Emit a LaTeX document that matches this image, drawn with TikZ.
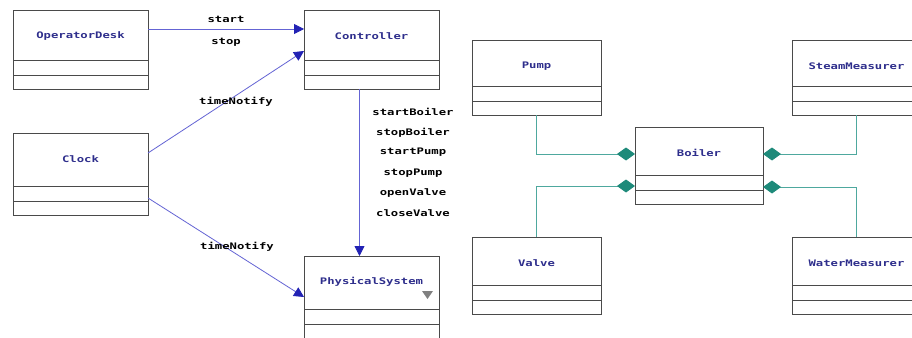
\documentclass[tikz,border=0pt]{standalone}
\usepackage{graphicx}
\usepackage{fontspec}
\setmonofont{DejaVu Sans Mono}
\usetikzlibrary{arrows.meta,calc}

\definecolor{frame}{HTML}{4A4A4A}
\definecolor{namecol}{HTML}{2E2E8C}
\definecolor{msgline}{HTML}{6464D4}
\definecolor{msghead}{HTML}{2222B4}
\definecolor{partline}{HTML}{4EA89E}
\definecolor{parthead}{HTML}{1E8A7A}

% wide, low monospace lettering
\newcommand\wide[1]{\scalebox{1.36}[1]{#1}}

\tikzset{
  classframe/.style={rectangle, draw=frame, line width=0.9pt, inner sep=0pt, outer sep=0pt},
  classname/.style={font=\ttfamily\bfseries\fontsize{9}{10}\selectfont, text=namecol, inner sep=1pt},
  compline/.style={draw=frame, line width=0.9pt},
  msglabel/.style={font=\ttfamily\bfseries\fontsize{9}{10}\selectfont, text=black, inner sep=1pt},
  msg/.style={draw=msgline, line width=0.8pt, -{Triangle[length=10pt,width=10pt,color=msghead]}},
  part/.style={draw=partline, line width=0.9pt, -{Diamond[length=18pt,width=13pt,color=parthead]}},
}

% class box: name, left, top, right, bottom, title
\newcommand\umlclass[6]{%
  \pgfmathsetmacro\cw{#4-#2}%
  \pgfmathsetmacro\ch{#5-#3}%
  \node[classframe, anchor=north west, minimum width=\cw pt, minimum height=\ch pt] (#1) at (#2,#3) {};
  \node[classname] (#1-name) at ($(#1.north)+(0,26)$) {\wide{#6}};
  \draw[compline] ([yshift=29pt]#1.south west) -- ([yshift=29pt]#1.south east);
  \draw[compline] ([yshift=14pt]#1.south west) -- ([yshift=14pt]#1.south east);
}

\begin{document}
\begin{tikzpicture}[x=1pt, y=-1pt]
  \useasboundingbox (0,0) rectangle (912,337);
  \clip (0,0) rectangle (912,337);
  \fill[white] (0,0) rectangle (912,337);

  % control side
  \umlclass{desk}{13}{10}{148}{89}{OperatorDesk}
  \umlclass{ctrl}{304}{10}{439}{89}{Controller}
  \umlclass{clock}{13}{133}{148}{215}{Clock}
  \umlclass{phys}{304}{256}{439}{338}{PhysicalSystem}
  \fill[gray] ($(phys.north east)+(-17,35)$) -- ($(phys.north east)+(-6,35)$) -- ($(phys.north east)+(-11.5,43)$) -- cycle;

  % messages
  \draw[msg] ([yshift=-19pt]desk.north east) -- ([yshift=-19pt]ctrl.north west);
  \draw[msg] ([yshift=-20pt]clock.north east) -- ([yshift=-41pt]ctrl.north west);
  \draw[msg] ([yshift=17pt]clock.south east) -- ([yshift=-41pt]phys.north west);
  \draw[msg] ([xshift=-12pt]ctrl.south) -- ([xshift=-12pt]ctrl.south |- phys.north);

  \node[msglabel] (l-start) at (226,19) {\wide{start}};
  \node[msglabel] (l-stop) at (226,42) {\wide{stop}};
  \node[msglabel] (l-tn1) at (236,102) {\wide{timeNotify}};
  \node[msglabel] (l-tn2) at (237,247) {\wide{timeNotify}};
  \node[msglabel] (l-m1) at (413,112) {\wide{startBoiler}};
  \node[msglabel] (l-m2) at (413,132.5) {\wide{stopBoiler}};
  \node[msglabel] (l-m3) at (413,152.5) {\wide{startPump}};
  \node[msglabel] (l-m4) at (413,173) {\wide{stopPump}};
  \node[msglabel] (l-m5) at (413,193) {\wide{openValve}};
  \node[msglabel] (l-m6) at (413,213) {\wide{closeValve}};

  % boiler composition
  \umlclass{pump}{472}{40}{601}{115}{Pump}
  \umlclass{boiler}{635}{127}{763}{204}{Boiler}
  \umlclass{valve}{472}{237}{601}{314}{Valve}
  \umlclass{steam}{792}{40}{921}{115}{SteamMeasurer}
  \umlclass{water}{792}{237}{921}{314}{WaterMeasurer}

  \draw[part] (pump.south) |- ([yshift=-27pt]boiler.north west);
  \draw[part] (valve.north) |- ([yshift=-59pt]boiler.north west);
  \draw[part] (steam.south) |- ([yshift=-27pt]boiler.north east);
  \draw[part] (water.north) |- ([yshift=-60pt]boiler.north east);
\end{tikzpicture}
\end{document}
